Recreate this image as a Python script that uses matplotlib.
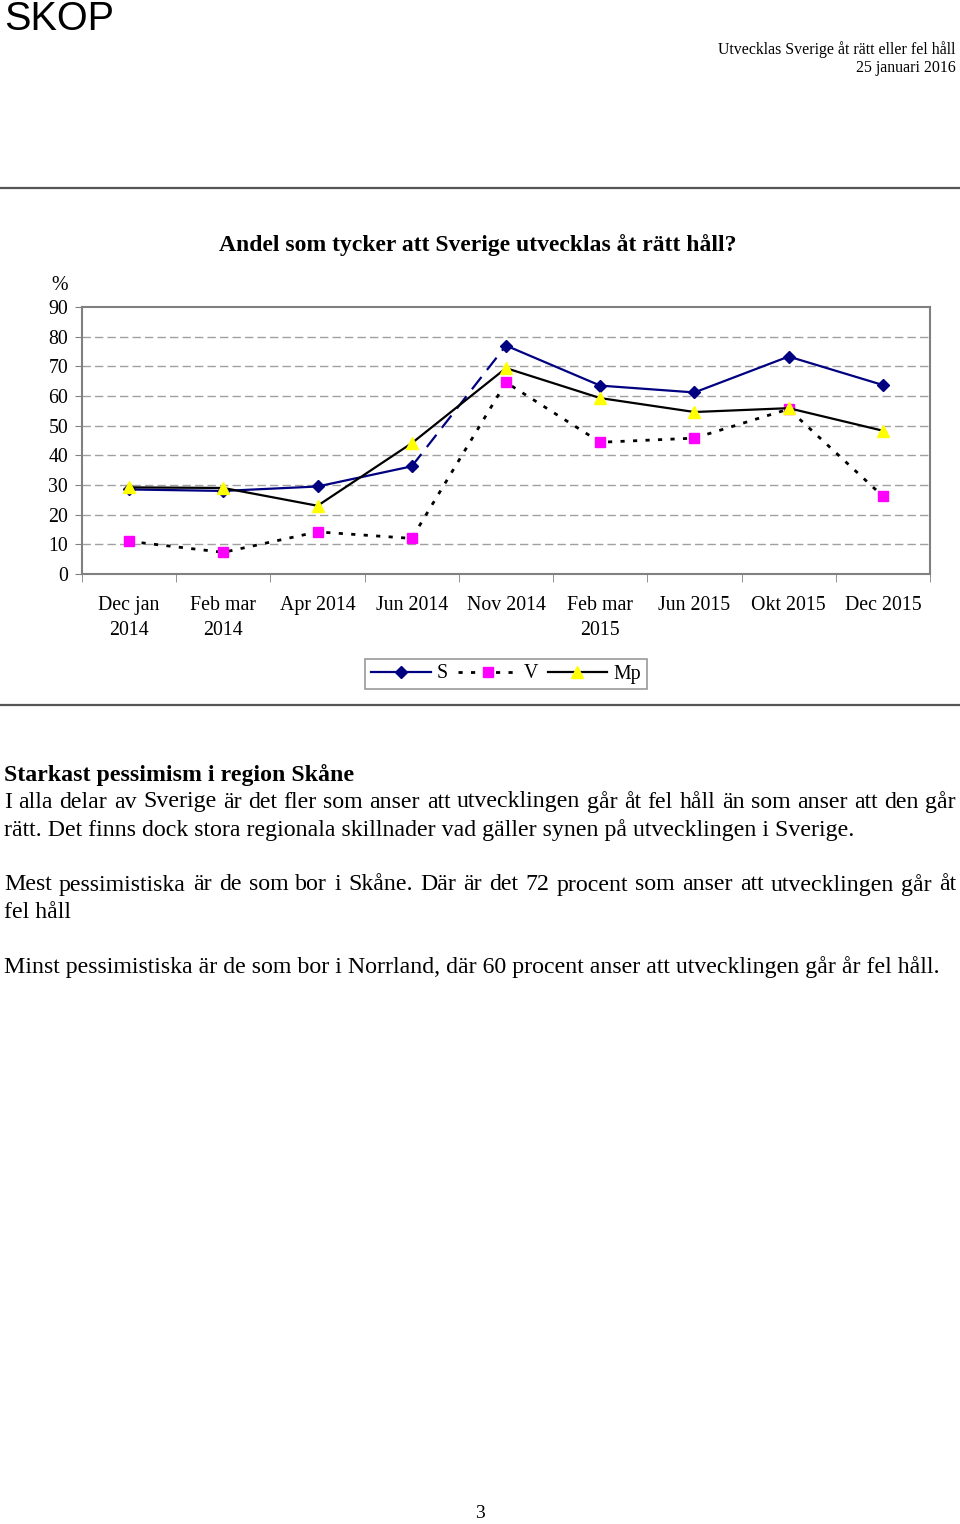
import matplotlib
matplotlib.use("Agg")
import numpy as np
import matplotlib.pyplot as plt
from matplotlib.lines import Line2D

# data
categories = ["Dec jan\n2014", "Feb mar\n2014", "Apr 2014", "Jun 2014", "Nov 2014",
              "Feb mar\n2015", "Jun 2015", "Okt 2015", "Dec 2015"]
s_values = [28.5, 28.0, 29.5, 36.3, 77.0, 63.5, 61.2, 73.3, 63.7]
v_values = [11.0, 7.3, 14.2, 12.0, 64.6, 44.4, 45.8, 55.6, 26.2]
mp_values = [29.2, 29.0, 23.0, 44.1, 69.4, 59.3, 54.6, 55.9, 48.3]
series_names = ["S", "V", "Mp"]
y_ticks = [0, 10, 20, 30, 40, 50, 60, 70, 80, 90]

title = "Andel som tycker att Sverige utvecklas åt rätt håll?"
header_lines = ["Utvecklas Sverige åt rätt eller fel håll", "25 januari 2016"]
body_heading = "Starkast pessimism i region Skåne"
body_lines = [
    ("I alla delar av Sverige är det fler som anser att utvecklingen går åt fel håll än som anser att den går", True),
    ("rätt. Det finns dock stora regionala skillnader vad gäller synen på utvecklingen i Sverige.", False),
    ("Mest pessimistiska är de som bor i Skåne. Där är det 72 procent som anser att utvecklingen går åt", True),
    ("fel håll", False),
    ("Minst pessimistiska är de som bor i Norrland, där 60 procent anser att utvecklingen går år fel håll.", False),
]
body_y = [802, 830, 885, 912, 967]

W, H = 960, 1524
SERIF = "Liberation Serif"
BODY = 17.2

fig = plt.figure(figsize=(W / 100, H / 100), dpi=100)
fig.patch.set_facecolor("white")


def fx(px):
    return px / W


def fy(py):
    return 1 - py / H


# header
fig.text(fx(4), fy(19), "SKOP", family="Liberation Sans", fontsize=28.5, va="center", ha="left")
fig.text(fx(956), fy(50), header_lines[0], family=SERIF, fontsize=11.4, va="center", ha="right")
fig.text(fx(956), fy(68), header_lines[1], family=SERIF, fontsize=11.4, va="center", ha="right")
for ypix in (188, 705):
    fig.add_artist(Line2D([0, 1], [fy(ypix), fy(ypix)], color="#555555", lw=1.6,
                          transform=fig.transFigure))

fig.text(fx(478), fy(245), title, family=SERIF, fontsize=17, weight="bold",
         ha="center", va="center")

# plot area
ax = fig.add_axes([fx(82), fy(574), fx(930) - fx(82), fy(307) - fy(574)])
x = np.arange(len(categories))

grid_kw = dict(color="#a0a0a0", lw=1, linestyle=(0, (6, 3)), zorder=0)
for t in y_ticks[1:-1]:
    ax.axhline(t, **grid_kw)

# S: solid except the dashed segment Jun 2014 -> Nov 2014
ax.plot(x[:4], s_values[:4], color="#000080", lw=1.6, zorder=3)
ax.plot(x[3:5], s_values[3:5], color="#000080", lw=1.6, linestyle=(0, (7, 4)), zorder=3)
ax.plot(x[4:], s_values[4:], color="#000080", lw=1.6, zorder=3)
ax.plot(x, s_values, linestyle="none", marker="D", ms=6.5, color="#000080", zorder=4)

ax.plot(x, v_values, color="black", lw=2, linestyle=(0, (1.5, 3)), marker="s", ms=7.5,
        markerfacecolor="#ff00ff", markeredgecolor="#ff00ff", zorder=3)
ax.plot(x, mp_values, color="black", lw=1.6, marker="^", ms=8.5,
        markerfacecolor="#ffff00", markeredgecolor="#ffff00", zorder=5)

ax.set_xlim(-0.5, len(categories) - 0.5)
ax.set_ylim(0, 90)
ax.set_yticks(y_ticks)
ax.set_yticklabels([str(t) for t in y_ticks], family=SERIF, fontsize=14.3)
ax.set_xticks(x)
ax.set_xticklabels(categories, family=SERIF, fontsize=14.3, linespacing=1.4)
ax.set_xticks(np.arange(len(categories) + 1) - 0.5, minor=True)
ax.tick_params(axis="x", which="major", length=0, pad=16)
ax.tick_params(axis="x", which="minor", length=6, color="#808080")
ax.tick_params(axis="y", length=5, color="#808080", pad=5)
for sp in ax.spines.values():
    sp.set_color("#808080")
    sp.set_linewidth(1.5)
fig.text(fx(60), fy(285), "%", family=SERIF, fontsize=14.3, ha="center", va="center")

# legend
handles = [
    Line2D([], [], color="#000080", lw=1.6, marker="D", ms=6.5),
    Line2D([], [], color="black", lw=2, linestyle=(0, (1.5, 3)), marker="s", ms=7.5,
           markerfacecolor="#ff00ff", markeredgecolor="#ff00ff"),
    Line2D([], [], color="black", lw=1.6, marker="^", ms=8.5,
           markerfacecolor="#ffff00", markeredgecolor="#ffff00"),
]
leg = fig.legend(handles, series_names, loc="center", bbox_to_anchor=(fx(506), fy(674)),
                 ncol=3, frameon=True, fancybox=False, edgecolor="#808080",
                 prop={"family": SERIF, "size": 14.3}, handlelength=3.0,
                 handletextpad=0.3, columnspacing=0.5, borderpad=0.3)
leg.get_frame().set_linewidth(1.2)

# body text
fig.text(fx(4), fy(775), body_heading, family=SERIF, fontsize=BODY, weight="bold",
         ha="left", va="center")

renderer = fig.canvas.get_renderer()


def justified(line, ypix, x0=4, x1=956, size=BODY):
    words = line.split(" ")
    texts = [fig.text(0, fy(ypix), w, family=SERIF, fontsize=size, ha="left", va="center")
             for w in words]
    widths = [t.get_window_extent(renderer).width for t in texts]
    gap = (x1 - x0 - sum(widths)) / (len(words) - 1)
    pos = x0
    for t, w in zip(texts, widths):
        t.set_x(fx(pos))
        pos += w + gap


for (line, just), ypix in zip(body_lines, body_y):
    if just:
        justified(line, ypix)
    else:
        fig.text(fx(4), fy(ypix), line, family=SERIF, fontsize=BODY, ha="left", va="center")

fig.text(fx(480), fy(1513), "3", family=SERIF, fontsize=14, ha="center", va="center")

fig.savefig("out.png", dpi=100)
